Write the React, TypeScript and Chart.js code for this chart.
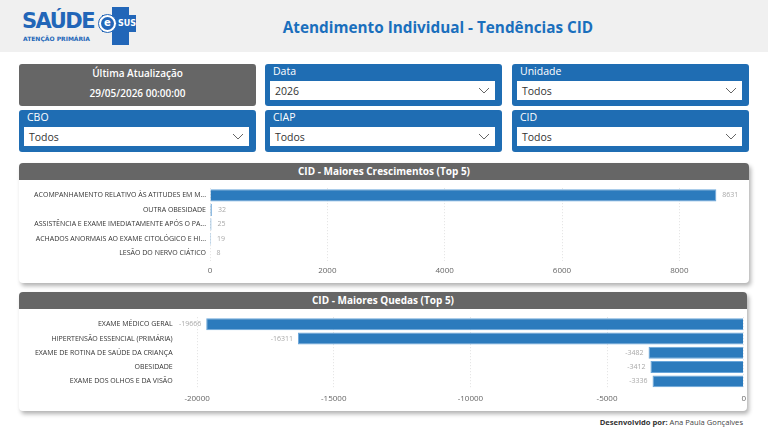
import React, { useEffect, useRef } from "react";
import { Chart, registerables } from "chart.js";

Chart.register(...registerables);

const FONT = "'Open Sans', 'Noto Sans', sans-serif";

const growthLabels = [
  "ACOMPANHAMENTO RELATIVO ÀS ATITUDES EM M...",
  "OUTRA OBESIDADE",
  "ASSISTÊNCIA E EXAME IMEDIATAMENTE APÓS O PA...",
  "ACHADOS ANORMAIS AO EXAME CITOLÓGICO E HI...",
  "LESÃO DO NERVO CIÁTICO",
];
const growthValues = [8631, 32, 25, 19, 8];
const growthTicks = [0, 2000, 4000, 6000, 8000];

const declineLabels = [
  "EXAME MÉDICO GERAL",
  "HIPERTENSÃO ESSENCIAL (PRIMÁRIA)",
  "EXAME DE ROTINA DE SAÚDE DA CRIANÇA",
  "OBESIDADE",
  "EXAME DOS OLHOS E DA VISÃO",
];
const declineValues = [-19666, -16311, -3482, -3412, -3336];
const declineTicks = [-20000, -15000, -10000, -5000, 0];

const BLUE = "#1f6db3";
const BAR = "#2c7bbd";

const valueLabelPlugin = {
  id: "valueLabels",
  afterDatasetsDraw(chart: any) {
    const ctx = chart.ctx;
    const meta = chart.getDatasetMeta(0);
    const data = chart.data.datasets[0].data as number[];
    ctx.save();
    ctx.font = `7px ${FONT}`;
    ctx.fillStyle = "#a8a8a8";
    ctx.textBaseline = "middle";
    meta.data.forEach((bar: any, i: number) => {
      const v = data[i];
      if (v >= 0) {
        ctx.textAlign = "left";
        ctx.fillText(String(v), bar.x + 6, bar.y);
      } else {
        ctx.textAlign = "right";
        ctx.fillText(String(v), bar.x - 5, bar.y);
      }
    });
    ctx.restore();
  },
};

type BarProps = {
  labels: string[];
  values: number[];
  ticks: number[];
  min: number;
  max: number;
  width: number;
  height: number;
  yWidth: number;
  pad: { top: number; bottom: number; left: number; right: number };
};

function BarChart({ labels, values, ticks, min, max, width, height, yWidth, pad }: BarProps) {
  const ref = useRef<HTMLCanvasElement>(null);
  useEffect(() => {
    if (!ref.current) return;
    const chart = new Chart(ref.current, {
      type: "bar",
      data: {
        labels,
        datasets: [
          {
            data: values,
            backgroundColor: BAR,
            borderColor: "#6aa6da",
            borderWidth: 1,
            barPercentage: 0.84,
            categoryPercentage: 1,
          },
        ],
      },
      options: {
        indexAxis: "y",
        responsive: false,
        animation: false,
        layout: { padding: pad },
        plugins: { legend: { display: false }, tooltip: { enabled: false } },
        scales: {
          x: {
            min,
            max,
            afterBuildTicks: (s: any) => {
              s.ticks = ticks.map((v) => ({ value: v }));
            },
            afterFit: (s: any) => {
              s.height = 22.5;
            },
            grid: { color: "#e0e0e0", drawTicks: false },
            border: { display: false, dash: [1, 2] },
            ticks: {
              color: "#666",
              font: { size: 8, family: FONT },
              padding: 5,
              maxRotation: 0,
              callback: (v: any) => String(v),
            },
          },
          y: {
            grid: { display: false, drawTicks: false },
            border: { display: false },
            ticks: { color: "#333", font: { size: 7, family: FONT }, padding: 4, autoSkip: false },
            afterFit: (s: any) => {
              s.width = yWidth;
            },
          },
        },
      },
      plugins: [valueLabelPlugin],
    } as any);
    return () => chart.destroy();
  }, []);
  return <canvas ref={ref} width={width} height={height} style={{ display: "block" }} />;
}

function Chevron({ x, y }: { x: number; y: number }) {
  return (
    <svg style={{ position: "absolute", left: x, top: y }} width={12} height={7}>
      <polyline points="1,1 6,6 11,1" fill="none" stroke="#666" strokeWidth={1} />
    </svg>
  );
}

function FilterCard({ x, y, label, value }: { x: number; y: number; label: string; value: string }) {
  return (
    <div
      style={{
        position: "absolute",
        left: x,
        top: y,
        width: 237,
        height: 42,
        background: BLUE,
        borderRadius: 3,
      }}
    >
      <div style={{ position: "absolute", left: 8, top: 0, color: "#fff", fontSize: 10.5, fontFamily: FONT }}>{label}</div>
      <div
        style={{
          position: "absolute",
          left: 5,
          top: 17,
          width: 225,
          height: 19,
          background: "#fff",
        }}
      >
        <div style={{ position: "absolute", left: 5, top: 3, color: "#333", fontSize: 10.5, fontFamily: FONT }}>{value}</div>
        <Chevron x={208} y={6} />
      </div>
    </div>
  );
}

function Panel({ x, y, w, h, title, children }: any) {
  return (
    <div
      style={{
        position: "absolute",
        left: x,
        top: y,
        width: w,
        height: h,
        background: "#fff",
        borderRadius: 4,
        boxShadow: "2px 3px 4px rgba(0,0,0,0.3)",
        overflow: "hidden",
      }}
    >
      <div
        style={{
          position: "absolute",
          left: 0,
          top: 0,
          width: w,
          height: 17,
          background: "#666",
          color: "#fff",
          fontFamily: FONT,
          fontWeight: 700,
          fontSize: 10,
          lineHeight: "17px",
          textAlign: "center",
        }}
      >
        {title}
      </div>
      <div style={{ position: "absolute", left: 0, top: 17 }}>{children}</div>
    </div>
  );
}

function Logo() {
  return (
    <div style={{ position: "absolute", left: 22, top: 6, width: 120, height: 40 }}>
      <div
        style={{
          position: "absolute",
          left: 0,
          top: 2,
          color: "#2266b8",
          fontFamily: "'DejaVu Sans', sans-serif",
          fontWeight: 900,
          fontSize: 21,
          letterSpacing: -1.5,
          lineHeight: "26px",
        }}
      >
        SAÚDE
      </div>
      <div
        style={{
          position: "absolute",
          left: 1,
          top: 29,
          color: "#2266b8",
          fontFamily: "'DejaVu Sans', sans-serif",
          fontWeight: 700,
          fontSize: 6,
          lineHeight: "8px",
        }}
      >
        ATENÇÃO PRIMÁRIA
      </div>
      <div style={{ position: "absolute", left: 90, top: 1, width: 17, height: 38, background: "#2266b8" }} />
      <div style={{ position: "absolute", left: 80, top: 9, width: 34, height: 17, background: "#2266b8" }} />
      <div
        style={{
          position: "absolute",
          left: 96,
          top: 13,
          color: "#fff",
          fontFamily: "'DejaVu Sans', sans-serif",
          fontWeight: 700,
          fontSize: 8,
          lineHeight: "9px",
        }}
      >
        SUS
      </div>
      <div
        style={{
          position: "absolute",
          left: 76,
          top: 8,
          width: 19,
          height: 19,
          borderRadius: "50%",
          background: "#fff",
          border: "1.5px solid #2266b8",
          boxSizing: "border-box",
        }}
      />
      <div
        style={{
          position: "absolute",
          left: 79,
          top: 11,
          width: 13,
          height: 13,
          borderRadius: "50%",
          background: "#2266b8",
          color: "#fff",
          fontFamily: "'DejaVu Sans', sans-serif",
          fontWeight: 700,
          fontSize: 10,
          lineHeight: "12px",
          textAlign: "center",
        }}
      >
        e
      </div>
    </div>
  );
}

export default function App() {
  return (
    <div style={{ position: "absolute", left: 0, top: 0, width: 768, height: 432, background: "#fff", overflow: "hidden", fontFamily: FONT }}>
      <div style={{ position: "absolute", left: 0, top: 0, width: 768, height: 52, background: "#f0f0f0" }} />
      <Logo />
      <div
        style={{
          position: "absolute",
          left: 230,
          top: 15,
          width: 416,
          textAlign: "center",
          color: "#1a6fbd",
          fontFamily: FONT,
          fontWeight: 700,
          fontSize: 15.3,
          lineHeight: "24px",
        }}
      >
        Atendimento Individual - Tendências CID
      </div>

      <div style={{ position: "absolute", left: 19, top: 64, width: 237, height: 42, background: "#666", borderRadius: 3 }}>
        <div style={{ position: "absolute", left: 0, top: 2, width: 237, textAlign: "center", color: "#fff", fontSize: 10, fontWeight: 600 }}>
          Última Atualização
        </div>
        <div style={{ position: "absolute", left: 0, top: 22, width: 237, textAlign: "center", color: "#fff", fontSize: 10, fontWeight: 600 }}>
          29/05/2026 00:00:00
        </div>
      </div>
      <FilterCard x={265} y={64} label="Data" value="2026" />
      <FilterCard x={512} y={64} label="Unidade" value="Todos" />
      <FilterCard x={19} y={110} label="CBO" value="Todos" />
      <FilterCard x={265} y={110} label="CIAP" value="Todos" />
      <FilterCard x={512} y={110} label="CID" value="Todos" />

      <Panel x={19} y={163} w={730} h={120} title="CID - Maiores Crescimentos (Top 5)">
        <BarChart
          labels={growthLabels}
          values={growthValues}
          ticks={growthTicks}
          min={0}
          max={9000}
          width={730}
          height={103}
          yWidth={191}
          pad={{ top: 8, bottom: 0, left: 0, right: 11 }}
        />
      </Panel>

      <Panel x={19} y={292} w={728} h={119} title="CID - Maiores Quedas (Top 5)">
        <BarChart
          labels={declineLabels}
          values={declineValues}
          ticks={declineTicks}
          min={-20750}
          max={0}
          width={732}
          height={102}
          yWidth={157.6}
          pad={{ top: 8, bottom: 0, left: 0, right: 1 }}
        />
      </Panel>

      <div style={{ position: "absolute", right: 25, top: 417, color: "#444", fontSize: 7.6, fontFamily: FONT, whiteSpace: "nowrap" }}>
        <b style={{ color: "#333" }}>Desenvolvido por:</b> Ana Paula Gonçalves
      </div>
    </div>
  );
}
